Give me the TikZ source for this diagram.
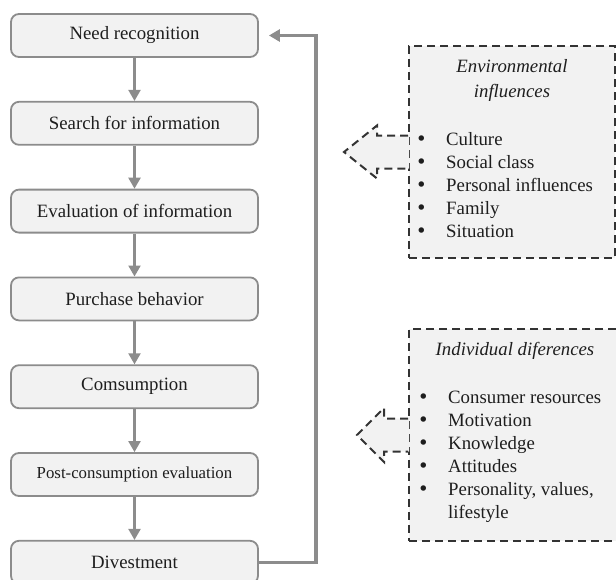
\documentclass[tikz,border=0pt]{standalone}
\usepackage{fontspec}
\setmainfont{Liberation Serif}
\newfontfamily\dotfont{DejaVu Sans}
\usepackage{xcolor}
\usetikzlibrary{arrows.meta, positioning, calc}

\definecolor{stepgray}{HTML}{8C8C8C}
\definecolor{boxfill}{HTML}{F2F2F2}
\definecolor{dashgray}{HTML}{333333}
\definecolor{textgray}{HTML}{1E1E1E}

\newcommand{\listdot}{\makebox[3.3pt]{{\dotfont •}}}

\begin{document}
\begin{tikzpicture}[
    x=0.5pt, y=-0.5pt,
    stage/.style={rectangle, draw=stepgray, line width=0.9pt, rounded corners=4pt, fill=boxfill, minimum width=123.5pt, minimum height=21.5pt, text=textgray, font=\fontsize{9.4}{11}\selectfont},
    flow/.style={-{Triangle[length=5.5pt,width=6pt]}, draw=stepgray, line width=1.1pt},
    feedback/.style={flow, line width=1.6pt},
    factorbox/.style={rectangle, draw=dashgray, fill=boxfill, line width=1pt, dash pattern=on 4pt off 2.5pt, minimum width=103pt, minimum height=106pt},
    factoredge/.style={draw=dashgray, line width=1pt, dash pattern=on 4pt off 2.5pt},
    factortitle/.style={inner sep=0pt, align=center, text=textgray, font=\fontsize{9.4}{12.5}\selectfont\itshape},
    factorlist/.style={inner sep=0pt, anchor=north west, text=textgray, font=\fontsize{9.4}{11.5}\selectfont}
]
\useasboundingbox (0,0) rectangle (616,579);

% decision process
\node[stage] (need) at (134.5,35.5) {Need recognition};
\node[stage, below=21.5pt of need] (search) {Search for information};
\node[stage, below=21.5pt of search] (eval) {Evaluation of information};
\node[stage, below=21.5pt of eval] (purchase) {Purchase behavior};
\node[stage, below=21.5pt of purchase] (consume) {Comsumption};
\node[stage, below=21.5pt of consume, font=\fontsize{8.4}{10}\selectfont] (post) {Post-consumption evaluation};
\node[stage, below=21.5pt of post] (divest) {Divestment};

\draw[flow] (need) -- (search);
\draw[flow] (search) -- (eval);
\draw[flow] (eval) -- (purchase);
\draw[flow] (purchase) -- (consume);
\draw[flow] (consume) -- (post);
\draw[flow] (post) -- (divest);

\coordinate[right=5pt of need.east] (loopend);
\draw[feedback] (divest.east) -- ++(57,0) |- (loopend);

% environmental influences
\node[factorbox] (envbox) at (512,152) {};
\fill[boxfill] ($(envbox.west)+(1,-16.5)$) -- ++(-32,0) -- ++(0,-10) -- ($(envbox.west)+(-64,0)$) -- ($(envbox.west)+(-31,26.5)$) -- ++(0,-10) -- ($(envbox.west)+(1,16.5)$) -- cycle;
\draw[factoredge] ($(envbox.west)+(0,-16.5)$) -- ++(-31,0) -- ++(0,-10) -- ($(envbox.west)+(-64,0)$) -- ($(envbox.west)+(-31,26.5)$) -- ++(0,-10) -- ($(envbox.west)+(0,16.5)$);
\node[factortitle, below=7pt of envbox.north] (envtitle) {Environmental\\influences};
\node[factorlist] (envlist) at ([xshift=4.8pt,yshift=-41.75pt]envbox.north west) {%
  \begin{tabular}{@{}l@{\hspace{10.8pt}}l@{}}
  \listdot & Culture\\
  \listdot & Social class\\
  \listdot & Personal influences\\
  \listdot & Family\\
  \listdot & Situation
  \end{tabular}};

% individual differences
\node[factorbox, minimum width=106pt] (indbox) at (515,435) {};
\fill[boxfill] ($(indbox.west)+(1,-16.5)$) -- ++(-25,0) -- ++(0,-10.5) -- ($(indbox.west)+(-51,0)$) -- ($(indbox.west)+(-24,27)$) -- ++(0,-10.5) -- ($(indbox.west)+(1,16.5)$) -- cycle;
\draw[factoredge] ($(indbox.west)+(0,-16.5)$) -- ++(-24,0) -- ++(0,-10.5) -- ($(indbox.west)+(-51,0)$) -- ($(indbox.west)+(-24,27)$) -- ++(0,-10.5) -- ($(indbox.west)+(0,16.5)$);
\node[factortitle, below=7pt of indbox.north] (indtitle) {Individual diferences};
\node[factorlist] (indlist) at ([xshift=5.8pt,yshift=-29.25pt]indbox.north west) {%
  \begin{tabular}{@{}l@{\hspace{10.8pt}}l@{}}
  \listdot & Consumer resources\\
  \listdot & Motivation\\
  \listdot & Knowledge\\
  \listdot & Attitudes\\
  \listdot & Personality, values,\\
           & lifestyle
  \end{tabular}};
\end{tikzpicture}
\end{document}
